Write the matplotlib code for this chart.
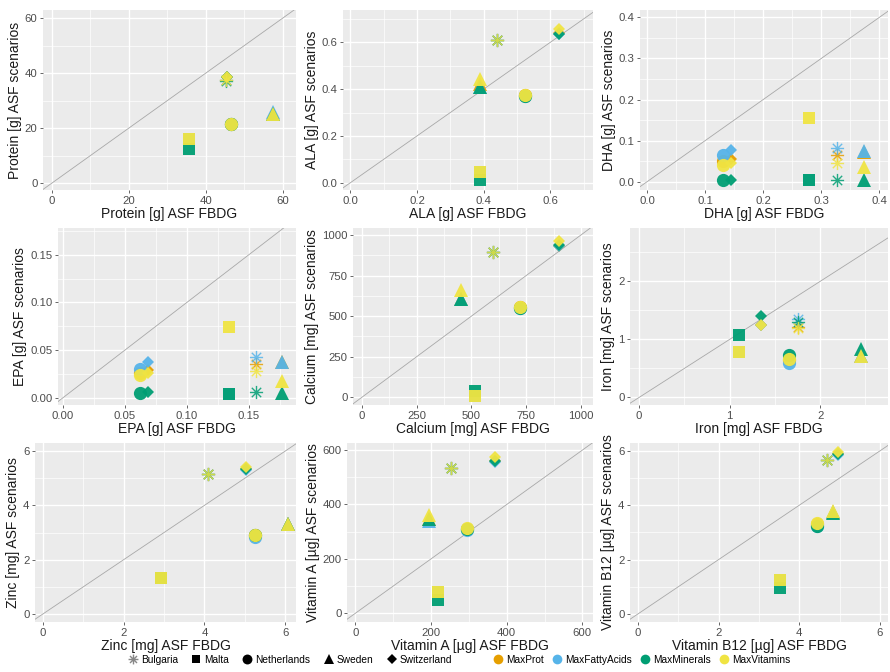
import matplotlib
matplotlib.use("Agg")
import matplotlib.pyplot as plt
from matplotlib.path import Path
from matplotlib.lines import Line2D
from matplotlib.ticker import FixedLocator, AutoMinorLocator, FormatStrFormatter

plt.rcParams['font.family'] = ['Liberation Sans', 'DejaVu Sans']

countries = ["Bulgaria", "Malta", "Netherlands", "Sweden", "Switzerland"]
scenarios = ["MaxProt", "MaxFattyAcids", "MaxMinerals", "MaxVitamins"]
scenario_colors = ["#E69F00", "#56B4E9", "#009E73", "#F0E442"]

nutrients = ["Protein [g]", "ALA [g]", "DHA [g]", "EPA [g]", "Calcium [mg]",
             "Iron [mg]", "Zinc [mg]", "Vitamin A [µg]", "Vitamin B12 [µg]"]

# FBDG values per country (Bulgaria, Malta, Netherlands, Sweden, Switzerland)
protein_fbdg = [45.2, 35.5, 46.5, 57.5, 45.5]
# scenario values: rows = MaxProt, MaxFattyAcids, MaxMinerals, MaxVitamins
protein_scen = [[37.5, 16.0, 21.5, 25.0, 38.5],
                [37.5, 16.0, 21.5, 26.0, 38.5],
                [37.0, 12.5, 21.5, 25.0, 38.5],
                [37.5, 16.0, 21.5, 25.0, 38.5]]

ala_fbdg = [0.44, 0.39, 0.525, 0.39, 0.625]
ala_scen = [[0.61, 0.045, 0.375, 0.42, 0.64],
            [0.61, 0.045, 0.370, 0.41, 0.635],
            [0.61, 0.010, 0.370, 0.41, 0.635],
            [0.61, 0.045, 0.375, 0.445, 0.655]]

dha_fbdg = [0.328, 0.279, 0.131, 0.373, 0.144]
dha_scen = [[0.066, 0.004, 0.050, 0.073, 0.055],
            [0.083, 0.004, 0.065, 0.075, 0.077],
            [0.005, 0.004, 0.004, 0.005, 0.005],
            [0.046, 0.155, 0.040, 0.036, 0.045]]

epa_fbdg = [0.156, 0.134, 0.0625, 0.177, 0.069]
epa_scen = [[0.035, 0.004, 0.026, 0.037, 0.0295],
            [0.0425, 0.004, 0.0305, 0.0375, 0.038],
            [0.006, 0.004, 0.0045, 0.0045, 0.006],
            [0.028, 0.074, 0.0235, 0.0175, 0.026]]

calcium_fbdg = [600, 517, 722, 453, 901]
calcium_scen = [[897, 10, 554, 604, 935],
                [897, 10, 550, 604, 935],
                [897, 40, 550, 604, 940],
                [897, 10, 554, 660, 960]]

iron_fbdg = [1.76, 1.10, 1.66, 2.45, 1.35]
iron_scen = [[1.22, 0.78, 0.65, 0.72, 1.25],
             [1.35, 0.78, 0.60, 0.72, 1.25],
             [1.30, 1.08, 0.73, 0.83, 1.41],
             [1.20, 0.78, 0.66, 0.71, 1.25]]

zinc_fbdg = [4.08, 2.92, 5.25, 6.08, 5.02]
zinc_scen = [[5.15, 1.32, 2.90, 3.30, 5.35],
             [5.15, 1.32, 2.85, 3.30, 5.30],
             [5.15, 1.32, 2.90, 3.30, 5.35],
             [5.15, 1.32, 2.92, 3.32, 5.40]]

vita_fbdg = [252, 219, 294, 194, 368]
vita_scen = [[535, 79, 310, 345, 560],
             [535, 79, 308, 340, 557],
             [535, 49, 310, 345, 560],
             [535, 79, 312, 362, 575]]

b12_fbdg = [4.68, 3.53, 4.43, 4.84, 4.97]
b12_scen = [[5.65, 1.25, 3.30, 3.75, 5.90],
            [5.65, 1.25, 3.25, 3.75, 5.85],
            [5.65, 0.97, 3.25, 3.70, 5.90],
            [5.65, 1.25, 3.34, 3.77, 5.97]]

major_ticks = [[0, 20, 40, 60], [0, 0.2, 0.4, 0.6], [0, 0.1, 0.2, 0.3, 0.4],
               [0, 0.05, 0.10, 0.15], [0, 250, 500, 750, 1000], [0, 1, 2],
               [0, 2, 4, 6], [0, 200, 400, 600], [0, 2, 4, 6]]

fbdg_all = [protein_fbdg, ala_fbdg, dha_fbdg, epa_fbdg, calcium_fbdg,
            iron_fbdg, zinc_fbdg, vita_fbdg, b12_fbdg]
scen_all = [protein_scen, ala_scen, dha_scen, epa_scen, calcium_scen,
            iron_scen, zinc_scen, vita_scen, b12_scen]

# ---- layout / style ----
W, H = 890, 672
fig = plt.figure(figsize=(W / 100, H / 100), dpi=100)

# panel rectangles in pixels: left, right, top, bottom
rects = [(43, 296, 10, 190), (343, 593, 10, 190), (640, 888, 10, 190),
         (58, 296, 228, 405), (353, 593, 228, 405), (630, 888, 228, 405),
         (35, 296, 443, 622), (347, 593, 443, 622), (630, 888, 443, 622)]
xlims = [(-2.3, 63.4), (-0.022, 0.728), (-0.012, 0.415), (-0.004, 0.188),
         (-40, 1055), (-0.1, 2.75), (-0.2, 6.27), (-22, 628), (-0.2, 6.2)]
ylims = [(-2.5, 62.9), (-0.031, 0.738), (-0.02, 0.418), (-0.0076, 0.178),
         (-47, 1043), (-0.13, 2.92), (-0.3, 6.3), (-32, 626), (-0.3, 6.29)]
fmts = ['%d', '%.1f', '%.1f', '%.2f', '%d', '%d', '%d', '%d', '%d']

star = Path([(-1, 0), (1, 0), (0, -1), (0, 1),
             (-0.71, -0.71), (0.71, 0.71), (-0.71, 0.71), (0.71, -0.71)],
            [Path.MOVETO, Path.LINETO] * 4)
markers = [star, 's', 'o', '^', 'D']
msizes = [9.5, 8.5, 9.5, 10.5, 6.5]

for i in range(9):
    l, r, t, b = rects[i]
    ax = fig.add_axes([l / W, (H - b) / H, (r - l) / W, (b - t) / H])
    ax.set_facecolor('#EBEBEB')
    for s in ax.spines.values():
        s.set_visible(False)
    ax.set_xlim(*xlims[i])
    ax.set_ylim(*ylims[i])
    ax.xaxis.set_major_locator(FixedLocator(major_ticks[i]))
    ax.yaxis.set_major_locator(FixedLocator(major_ticks[i]))
    ax.xaxis.set_minor_locator(AutoMinorLocator(2))
    ax.yaxis.set_minor_locator(AutoMinorLocator(2))
    ax.xaxis.set_major_formatter(FormatStrFormatter(fmts[i]))
    ax.yaxis.set_major_formatter(FormatStrFormatter(fmts[i]))
    ax.grid(which='major', color='white', lw=1.0)
    ax.grid(which='minor', color='white', lw=0.5)
    ax.set_axisbelow(True)
    ax.tick_params(which='major', length=2.5, width=0.6, color='#4D4D4D',
                   labelcolor='#4D4D4D', labelsize=8.2, pad=1.5)
    ax.tick_params(which='minor', length=0)
    ax.axline((0, 0), slope=1, color='#A8A8A8', lw=0.6, zorder=1)
    x = fbdg_all[i]
    for k in range(4):
        y = scen_all[i][k]
        c = scenario_colors[k]
        for j in range(5):
            if j == 0:
                ax.plot(x[j], y[j], ls='none', marker=markers[j], ms=msizes[j],
                        mec=c, mfc='none', mew=1.0, alpha=0.85, zorder=3 + k)
            else:
                ax.plot(x[j], y[j], ls='none', marker=markers[j], ms=msizes[j],
                        color=c, mec=c, mew=0, alpha=0.95, zorder=3 + k)
    ax.set_xlabel(nutrients[i] + " ASF FBDG", fontsize=10, color='#1A1A1A', labelpad=1)
    ax.set_ylabel(nutrients[i] + " ASF scenarios", fontsize=10, color='#1A1A1A', labelpad=2)

# legends
ch = [Line2D([], [], ls='none', marker=markers[j], ms=msizes[j] * 0.75,
             color='black', mfc=('none' if j == 0 else 'black'),
             mec=('#888888' if j == 0 else 'black'), mew=(1.0 if j == 0 else 0))
      for j in range(5)]
leg1 = fig.legend(ch, countries, loc='center', bbox_to_anchor=(290 / W, 12 / H),
                  ncol=5, frameon=False, fontsize=7.3, handlelength=1.0,
                  handletextpad=0.3, columnspacing=1.3, borderpad=0)
sh = [Line2D([], [], ls='none', marker='o', ms=7, color=c, mew=0) for c in scenario_colors]
leg2 = fig.legend(sh, scenarios, loc='center', bbox_to_anchor=(642 / W, 12 / H),
                  ncol=4, frameon=False, fontsize=7.3, handlelength=0.9,
                  handletextpad=0.3, columnspacing=0.9, borderpad=0)

fig.savefig("out.png", dpi=100)
